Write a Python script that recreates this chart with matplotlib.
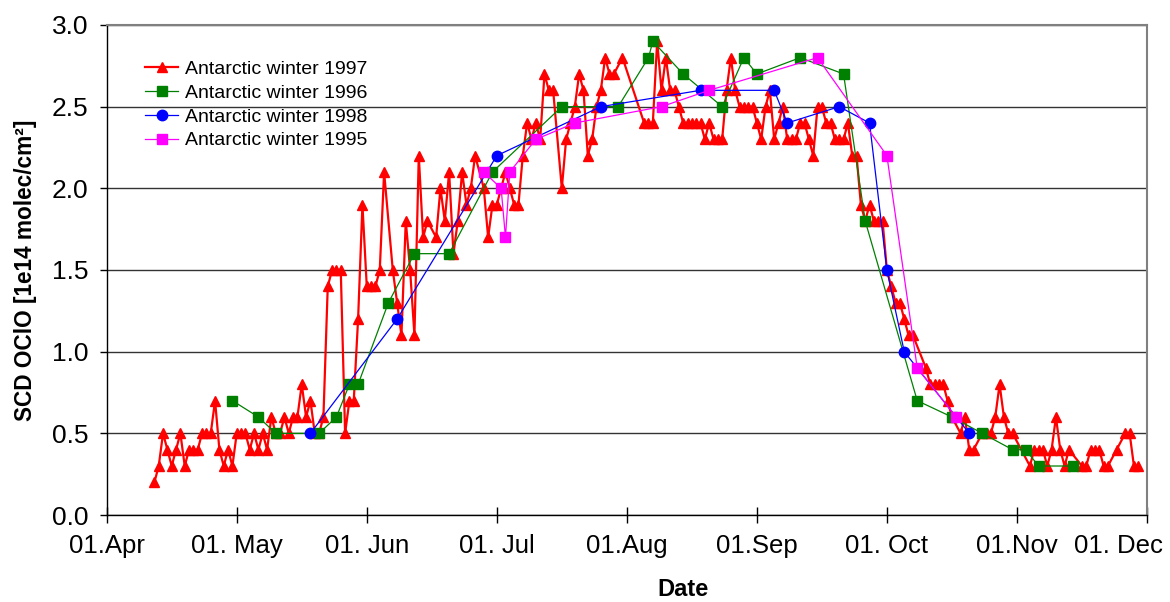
import matplotlib
matplotlib.use("Agg")
import matplotlib.pyplot as plt
from matplotlib.transforms import ScaledTranslation

plt.rcParams['font.family'] = ['Liberation Sans', 'DejaVu Sans']

# x positions are days counted from 1 April
red_days = list(range(11, 65)) + [66, 67, 68, 69, 70, 71, 72, 73, 74, 76, 77, 78, 79, 80, 81, 82, 83, 84, 85,
                                  87, 88, 89, 90, 91, 92, 93, 94, 95, 96, 97, 98, 99, 100, 101, 102, 103,
                                  105, 106, 107, 108, 109, 110, 111, 112, 113, 114, 115, 116, 117, 119] + \
    list(range(124, 187)) + list(range(189, 196)) + [197, 198, 199, 200, 202, 203, 204, 205, 206, 207, 208,
                                                     209, 213, 214, 215, 216, 217, 218, 219, 220, 221, 222,
                                                     225, 226, 227, 228, 229, 230, 231, 233, 235, 236, 237, 238]
red_vals = [0.2, 0.3, 0.5, 0.4, 0.3, 0.4, 0.5, 0.3, 0.4, 0.4, 0.4, 0.5, 0.5, 0.5, 0.7, 0.4, 0.3, 0.4, 0.3, 0.5,
            0.5, 0.5, 0.4, 0.5, 0.4, 0.5,
            0.4, 0.6, 0.5, 0.5, 0.6, 0.5, 0.6, 0.6, 0.8, 0.6, 0.7, 0.5, 0.5, 0.6,
            1.4, 1.5, 1.5, 1.5, 0.5, 0.7, 0.7, 1.2, 1.9, 1.4, 1.4, 1.4, 1.5, 2.1,
            1.5, 1.3, 1.1, 1.8, 1.5, 1.1, 2.2, 1.7, 1.8, 1.7, 2.0, 1.8, 2.1, 1.6, 1.8, 2.1, 1.9, 2.0, 2.2,
            2.0, 1.7, 1.9, 1.9, 2.0, 2.1, 2.0, 1.9, 1.9, 2.2, 2.4, 2.3, 2.4, 2.3, 2.7, 2.6, 2.6,
            2.0, 2.3, 2.4, 2.5, 2.7, 2.6, 2.2, 2.3, 2.5, 2.6, 2.8, 2.7, 2.7, 2.8,
            2.4, 2.4, 2.4, 2.9, 2.6, 2.8, 2.6, 2.6, 2.5, 2.4, 2.4, 2.4, 2.4, 2.4, 2.3, 2.4, 2.3, 2.3, 2.3,
            2.6, 2.8, 2.6, 2.5, 2.5, 2.5, 2.5, 2.4, 2.3, 2.5, 2.6, 2.3, 2.4, 2.5, 2.3, 2.3, 2.3, 2.4, 2.4,
            2.3, 2.2, 2.5, 2.5, 2.4, 2.4, 2.3, 2.3, 2.3, 2.4, 2.2, 2.2, 1.9, 1.8, 1.9, 1.8, 1.8, 1.8,
            1.5, 1.4, 1.3, 1.3, 1.2, 1.1, 1.1,
            0.9, 0.8, 0.8, 0.8, 0.8, 0.7, 0.6,
            0.5, 0.6, 0.4, 0.4, 0.5, 0.5, 0.5, 0.6, 0.8, 0.6, 0.5,
            0.5, 0.3, 0.4, 0.4, 0.4, 0.3, 0.4, 0.6, 0.4, 0.3, 0.4,
            0.3, 0.3, 0.4, 0.4, 0.4, 0.3, 0.3, 0.4, 0.5, 0.5, 0.3, 0.3]

green_days = [29, 35, 39, 49, 53, 56, 58, 65, 71, 79, 89, 105, 118, 125, 126, 133, 142, 147, 150, 160,
              170, 175, 187, 195, 202, 209, 212, 215, 223]
green_vals = [0.7, 0.6, 0.5, 0.5, 0.6, 0.8, 0.8, 1.3, 1.6, 1.6, 2.1, 2.5, 2.5, 2.8, 2.9, 2.7, 2.5, 2.8, 2.7,
              2.8, 2.7, 1.8, 0.7, 0.6, 0.5, 0.4, 0.4, 0.3, 0.3]

blue_days = [47, 67, 90, 114, 137, 154, 157, 169, 176, 180, 184, 199]
blue_vals = [0.5, 1.2, 2.2, 2.5, 2.6, 2.6, 2.4, 2.5, 2.4, 1.5, 1.0, 0.5]

magenta_days = [87, 91, 92, 93, 99, 108, 128, 139, 164, 180, 187, 196]
magenta_vals = [2.1, 2.0, 1.7, 2.1, 2.3, 2.4, 2.5, 2.6, 2.8, 2.2, 0.9, 0.6]

tick_days = [0, 30, 60, 90, 120, 150, 180, 210, 240]
tick_labels = ["01.Apr", "01. May", "01. Jun", "01. Jul", "01.Aug", "01.Sep", "01. Oct", "01.Nov", "01. Dec"]
y_ticks = [0.0, 0.5, 1.0, 1.5, 2.0, 2.5, 3.0]

fig = plt.figure(figsize=(11.7, 6.02), dpi=100)
ax = fig.add_axes([0.0912, 0.1445, 0.8891, 0.8140])

ax.plot(red_days, red_vals, color='#FF0000', lw=1.6, marker='^', ms=7.5, mec='#FF0000',
        label='Antarctic winter 1997', zorder=3)
ax.plot(green_days, green_vals, color='#008000', lw=0.9, marker='s', ms=7.5, mec='#008000',
        label='Antarctic winter 1996', zorder=4)
ax.plot(blue_days, blue_vals, color='#0000FF', lw=0.9, marker='o', ms=7.5, mec='#0000FF',
        label='Antarctic winter 1998', zorder=5)
ax.plot(magenta_days, magenta_vals, color='#FF00FF', lw=0.9, marker='s', ms=7, mec='#FF00FF',
        label='Antarctic winter 1995', zorder=6)

ax.set_xlim(0, 240)
ax.set_ylim(0, 3.0)
ax.set_xticks(tick_days)
# the last label is placed by hand so that it stays inside the figure
ax.set_xticklabels(tick_labels[:-1] + [""])
ax.set_yticks(y_ticks)
ax.set_yticklabels([f"{v:.1f}" for v in y_ticks])

ax.grid(axis='y', color='#333333', lw=1.0)
ax.set_axisbelow(True)

for side in ('top', 'right'):
    ax.spines[side].set_color('#808080')
    ax.spines[side].set_linewidth(1.5)
for side in ('left', 'bottom'):
    ax.spines[side].set_color('black')
    ax.spines[side].set_linewidth(1.0)

ax.tick_params(axis='x', direction='inout', length=12, width=1, labelsize=18.5, pad=8)
ax.tick_params(axis='y', direction='out', length=5, width=1, labelsize=19, pad=8)

ax.text(tick_days[-1], 0, tick_labels[-1], fontsize=18.5, ha='right', va='top',
        transform=ax.get_xaxis_transform() + ScaledTranslation(16 / 100, -19 / 100, fig.dpi_scale_trans))

ax.set_ylabel('SCD OClO [1e14 molec/cm²]', fontsize=16.3, fontweight='bold', labelpad=11)
fig.text(683 / 1170, 1 - 590 / 602, 'Date', fontsize=17, fontweight='bold', ha='center', va='center')

ax.legend(loc='upper left', bbox_to_anchor=(0.0368, 0.928), frameon=False, fontsize=14,
          handlelength=1.7, handletextpad=0.35, labelspacing=0.32, borderpad=0, borderaxespad=0)

fig.savefig('out.png', dpi=100, facecolor='white')
